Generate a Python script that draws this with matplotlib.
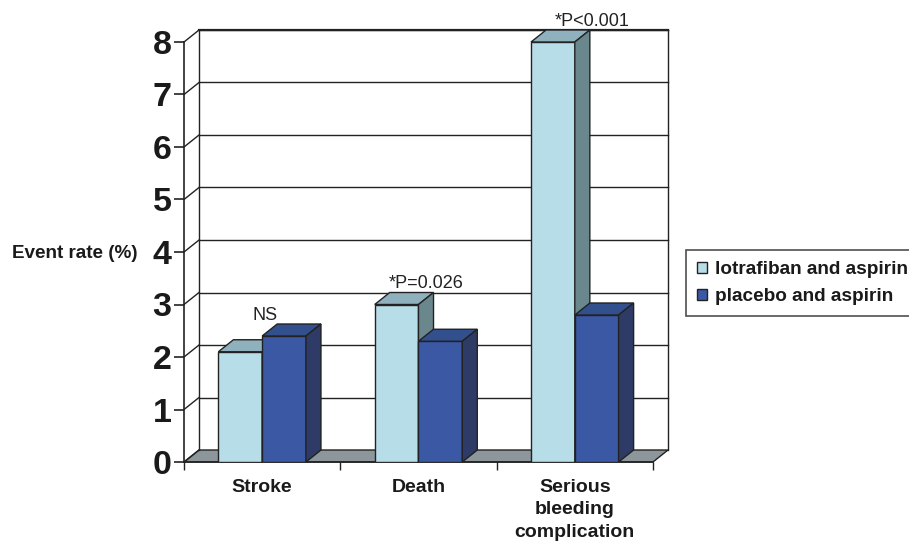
import numpy as np
import matplotlib.pyplot as plt
from matplotlib.patches import Polygon, Patch

plt.rcParams['font.family'] = ['Liberation Sans', 'DejaVu Sans']

# data
categories = ['Stroke', 'Death', 'Serious\nbleeding\ncomplication']
lotrafiban = [2.1, 3.0, 8.0]
placebo = [2.4, 2.3, 2.8]
annotations = ['NS', '*P=0.026', '*P<0.001']
series_names = ['lotrafiban and aspirin', 'placebo and aspirin']

# annotation x shift from category centre (layout only)
ann_shift = [0.02, 0.05, 0.11]

# colours: front, top, side
c_lot = ('#b7dde8', '#8fb1bd', '#6a878d')
c_pla = ('#3a58a4', '#33508e', '#2d3b66')
edge = '#222222'

W = 909
H = 543
fig = plt.figure(figsize=(W / 100, H / 100), dpi=100)
# axes: left front edge at px 184, y=0 at px 462, back top at px 30, right back at px 668
ax = fig.add_axes([184 / W, (H - 462) / H, (668 - 184) / W, (462 - 30) / H])

dx = 15 / 156   # depth offset in data x
dy = 12 / 52.5  # depth offset in data y
x0, x1 = -0.5, 2.5
bw = 0.28

ax.set_xlim(x0, x1 + dx)
ax.set_ylim(0, 8 + dy)
for s in ['top', 'right', 'bottom']:
    ax.spines[s].set_visible(False)
ax.spines['left'].set_bounds(0, 8)
ax.spines['left'].set_color(edge)
ax.spines['left'].set_linewidth(1.2)
ax.patch.set_visible(False)

# floor
floor = Polygon([(x0, 0), (x0 + dx, dy), (x1 + dx, dy), (x1, 0)], closed=True,
                facecolor='#8c969b', edgecolor=edge, lw=1.0, clip_on=False, zorder=1)
ax.add_patch(floor)

# back wall grid and left wall diagonals
for k in range(0, 9):
    ax.plot([x0, x0 + dx], [k, k + dy], color=edge, lw=1.0, clip_on=False, zorder=1)
    if k > 0:
        ax.plot([x0 + dx, x1 + dx], [k + dy, k + dy], color=edge, lw=1.0, clip_on=False, zorder=1)
ax.plot([x0 + dx, x0 + dx], [dy, 8 + dy], color=edge, lw=1.0, clip_on=False, zorder=1)
ax.plot([x1 + dx, x1 + dx], [dy, 8 + dy], color=edge, lw=1.0, clip_on=False, zorder=1)
ax.plot([x0 + dx, x1 + dx], [8 + dy, 8 + dy], color=edge, lw=1.6, clip_on=False, zorder=1)


def bar3d(left, h, cols, z):
    ax.bar(left, h, width=bw, align='edge', color=cols[0], edgecolor=edge, lw=1.0, zorder=z)
    top = Polygon([(left, h), (left + dx, h + dy), (left + bw + dx, h + dy), (left + bw, h)],
                  closed=True, facecolor=cols[1], edgecolor=edge, lw=1.0, zorder=z)
    side = Polygon([(left + bw, 0), (left + bw + dx, dy), (left + bw + dx, h + dy), (left + bw, h)],
                   closed=True, facecolor=cols[2], edgecolor=edge, lw=1.0, zorder=z)
    ax.add_patch(top)
    ax.add_patch(side)


for i in range(len(categories)):
    bar3d(i - bw, lotrafiban[i], c_lot, 3 + 2 * i)
    bar3d(i, placebo[i], c_pla, 4 + 2 * i)
    top = max(lotrafiban[i], placebo[i])
    ax.text(i + ann_shift[i], top + dy + 0.08, annotations[i], ha='center', va='baseline',
            fontsize=13, color='#222222', clip_on=False)

# front floor edge
ax.plot([x0, x1], [0, 0], color=edge, lw=1.2, clip_on=False, zorder=2)

ax.set_yticks(range(0, 9))
ax.set_yticklabels([str(v) for v in range(0, 9)], fontsize=24.5, fontweight='bold')
ax.tick_params(axis='y', length=7, width=1.2, pad=2, colors=edge, labelcolor='#1a1a1a')

ax.set_xticks(range(len(categories)))
ax.set_xticklabels(categories, fontsize=14, fontweight='bold', linespacing=1.42)
ax.set_xticks([x0 + k for k in range(0, 4)], minor=True)
ax.tick_params(axis='x', which='major', length=0, pad=12, labelcolor='#1a1a1a')
ax.tick_params(axis='x', which='minor', length=6, width=1.0, colors=edge)

fig.text(12 / W, 1 - 253 / H, 'Event rate (%)', fontsize=13.6, fontweight='bold',
         ha='left', va='center', color='#1a1a1a')

handles = [Patch(facecolor=c_lot[0], edgecolor=edge, lw=1.0),
           Patch(facecolor=c_pla[0], edgecolor=edge, lw=1.0)]
leg = fig.legend(handles, series_names, loc='upper left',
                 bbox_to_anchor=(686 / W, 1 - 250 / H),
                 prop={'weight': 'bold', 'size': 13.7}, frameon=True, fancybox=False,
                 edgecolor=edge, handlelength=0.5, handleheight=0.5, handletextpad=0.4,
                 borderpad=0.6, labelspacing=0.5, borderaxespad=0)
leg.get_frame().set_linewidth(1.2)
for t in leg.get_texts():
    t.set_color('#1a1a1a')

fig.savefig('out.png', dpi=100)
